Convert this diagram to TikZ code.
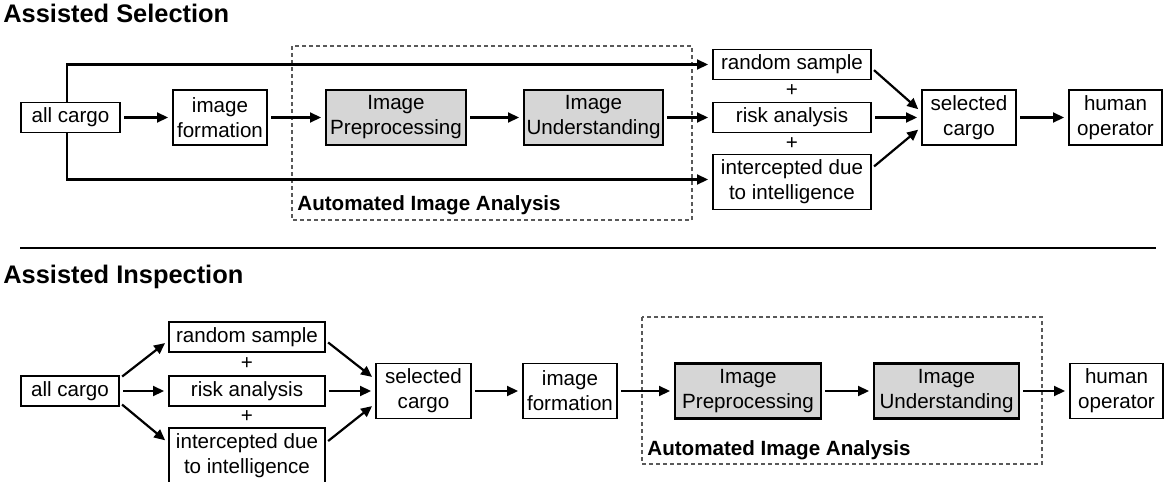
\documentclass[tikz,border=0pt]{standalone}
\usepackage{fontspec}
\setmainfont{Liberation Sans}
\usetikzlibrary{positioning,arrows.meta,calc}

\begin{document}
\begin{tikzpicture}[x=0.5pt, y=-0.5pt,
    box/.style={rectangle, draw, line width=0.8pt, fill=white, outer sep=0pt, inner xsep=1pt, inner ysep=1pt, minimum height=15pt, align=center, font=\fontsize{10.3}{12.5}\selectfont},
    tall/.style={box, minimum height=27.5pt},
    col/.style={box, minimum width=79pt},
    proc/.style={tall, fill=black!16, line width=1.4pt},
    frame/.style={draw=black!65, line width=0.6pt, dash pattern=on 2pt off 1.5pt},
    frametitle/.style={anchor=base west, inner sep=0pt, font=\fontsize{10.3}{12.5}\selectfont\bfseries},
    heading/.style={anchor=base west, inner sep=0pt, font=\fontsize{12.7}{15}\selectfont\bfseries},
    plus/.style={inner sep=0pt, font=\fontsize{10.3}{12.5}\selectfont},
    arrow/.style={line width=1.1pt, -{Triangle[length=5.5pt, width=5pt]}, shorten >=2.5pt, shorten <=2pt}
]
\useasboundingbox (0,0) rectangle (1164,482);

\node[heading] (selhead) at (3,23) {Assisted Selection};
\node[heading] (insphead) at (3,283) {Assisted Inspection};
\draw[line width=1.2pt] (20,248) -- (1156,248);

% selection first, analysis on the chosen cargo
\draw[frame] (292,46) rectangle (692,220);
\node[frametitle] (autoA) at (297,210) {Automated Image Analysis};
\node[box, minimum width=49.5pt] (cargoA) at (70.5,117.5) {all cargo};
\node[tall, minimum width=47pt, right=26.5pt of cargoA] (formA) {image\\formation};
\node[proc, minimum width=70pt, right=29.5pt of formA] (prepA) {Image\\Preprocessing};
\node[proc, minimum width=69.5pt, right=29pt of prepA] (undA) {Image\\Understanding};
\node[col, right=25pt of undA] (riskA) {risk analysis};
\node[col, above=11.5pt of riskA] (randA) {random sample};
\node[col, tall, below=11pt of riskA] (intA) {intercepted due\\to intelligence};
\node[plus] (plusA1) at ($(randA.south)!0.5!(riskA.north)$) {+};
\node[plus] (plusA2) at ($(riskA.south)!0.5!(intA.north)$) {+};
\node[tall, minimum width=47pt, right=25.5pt of riskA] (selA) {selected\\cargo};
\node[tall, minimum width=46.5pt, right=26.5pt of selA] (humA) {human\\operator};
\draw[arrow] (cargoA) -- (formA);
\draw[arrow] (formA) -- (prepA);
\draw[arrow] (prepA) -- (undA);
\draw[arrow] (undA) -- (riskA);
\draw[arrow, shorten <=0pt] ([xshift=-1.75pt]cargoA.north) |- (randA.west);
\draw[arrow, shorten <=0pt] ([xshift=-1.75pt]cargoA.south) |- ([yshift=1.25pt]intA.west);
\draw[arrow] ([yshift=-1.5pt]randA.east) -- ([yshift=2.5pt]selA.west);
\draw[arrow] (riskA) -- (selA);
\draw[arrow] ([yshift=6.5pt]intA.east) -- ([yshift=-4.5pt]selA.west);
\draw[arrow] (selA) -- (humA);

% selection first, then analysis of the selected cargo only
\draw[frame] (642,317) rectangle (1042,464);
\node[frametitle] (autoB) at (647,455) {Automated Image Analysis};
\node[box, minimum width=49pt] (cargoB) at (70,391) {all cargo};
\node[col, minimum width=78pt, right=25pt of cargoB] (riskB) {risk analysis};
\node[col, minimum width=78pt, above=12pt of riskB] (randB) {random sample};
\node[col, tall, minimum width=78pt, below=11pt of riskB] (intB) {intercepted due\\to intelligence};
\node[plus] (plusB1) at ($(randB.south)!0.5!(riskB.north)$) {+};
\node[plus] (plusB2) at ($(riskB.south)!0.5!(intB.north)$) {+};
\node[tall, minimum width=47.5pt, right=25.5pt of riskB] (selB) {selected\\cargo};
\node[tall, minimum width=47pt, right=26pt of selB] (formB) {image\\formation};
\node[proc, minimum width=73pt, right=29pt of formB] (prepB) {Image\\Preprocessing};
\node[proc, minimum width=72.5pt, right=26.5pt of prepB] (undB) {Image\\Understanding};
\node[tall, minimum width=46.5pt, right=25.5pt of undB] (humB) {human\\operator};
\draw[arrow] ([yshift=6pt]cargoB.east) -- ([yshift=-1.5pt]randB.west);
\draw[arrow] (cargoB) -- (riskB);
\draw[arrow] ([yshift=-5.5pt]cargoB.east) -- ([yshift=6pt]intB.west);
\draw[arrow] ([yshift=-1.5pt]randB.east) -- ([yshift=5.5pt]selB.west);
\draw[arrow] (riskB) -- (selB);
\draw[arrow] ([yshift=6pt]intB.east) -- ([yshift=-6pt]selB.west);
\draw[arrow] (selB) -- (formB);
\draw[arrow] (formB) -- (prepB);
\draw[arrow] (prepB) -- (undB);
\draw[arrow] (undB) -- (humB);
\end{tikzpicture}
\end{document}
